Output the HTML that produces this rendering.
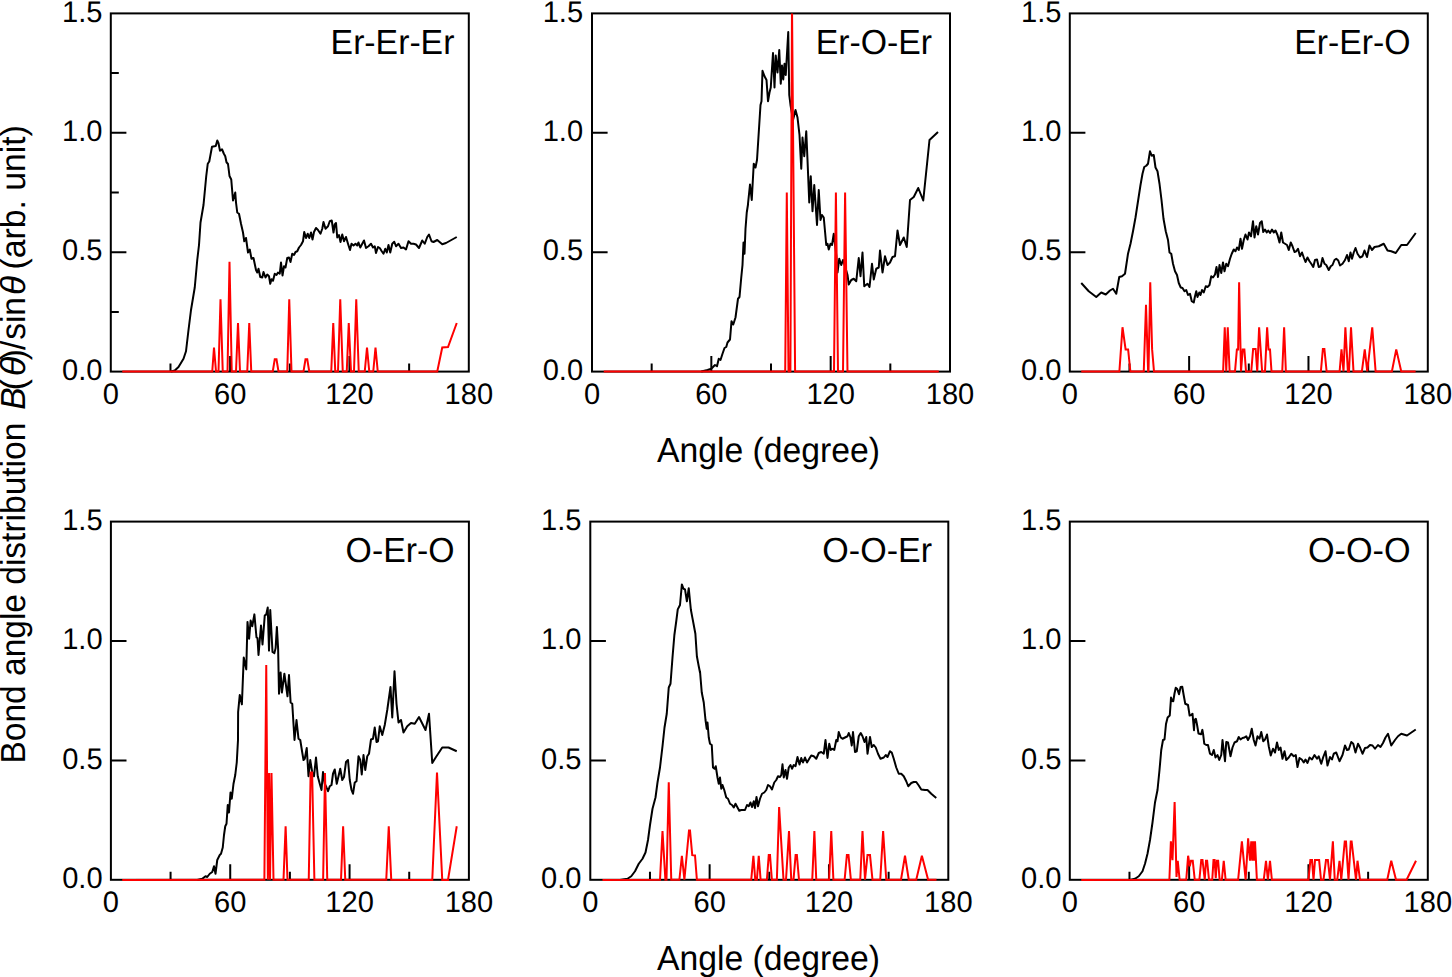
<!DOCTYPE html>
<html><head><meta charset="utf-8"><title>Bond angle distribution</title>
<style>html,body{margin:0;padding:0;background:#fff;}svg{display:block;font-family:"Liberation Sans",sans-serif;text-rendering:geometricPrecision;}</style>
</head><body>
<svg width="1452" height="977" viewBox="0 0 1452 977">
<rect x="0" y="0" width="1452" height="977" fill="#ffffff"/>
<defs>
<clipPath id="c0"><rect x="110.80" y="13.40" width="358.00" height="359.70"/></clipPath>
<clipPath id="c1"><rect x="592.00" y="13.40" width="358.00" height="359.70"/></clipPath>
<clipPath id="c2"><rect x="1069.80" y="13.40" width="358.00" height="359.70"/></clipPath>
<clipPath id="c3"><rect x="110.90" y="521.60" width="358.00" height="359.70"/></clipPath>
<clipPath id="c4"><rect x="590.30" y="521.60" width="358.00" height="359.70"/></clipPath>
<clipPath id="c5"><rect x="1069.80" y="521.60" width="358.00" height="359.70"/></clipPath>
</defs>
<g>
<rect x="110.80" y="13.40" width="358.00" height="358.20" fill="none" stroke="#000" stroke-width="2.0"/>
<path d="M170.47,371.60 v-8.00 M230.13,371.60 v-15.50 M289.80,371.60 v-8.00 M349.47,371.60 v-15.50 M409.13,371.60 v-8.00 M110.80,252.20 h15.60 M110.80,132.80 h15.60 M110.80,311.90 h8.00 M110.80,192.50 h8.00 M110.80,73.10 h8.00" stroke="#000" stroke-width="2.0" fill="none"/>
<polyline points="171.00,371.50 174.75,370.50 178.50,367.00 183.50,358.75 186.00,351.25 188.50,330.00 191.00,310.00 194.75,287.50 197.25,260.00 199.00,245.00 200.50,222.50 203.50,205.00 206.25,176.00 207.75,163.75 209.25,161.50 212.00,146.75 215.75,146.00 217.25,140.50 218.50,143.25 220.00,150.75 222.00,149.25 223.75,153.50 225.25,156.25 226.50,162.25 228.00,164.00 229.50,176.00 231.25,179.50 233.00,200.50 235.25,192.50 236.00,202.50 237.25,212.50 239.00,213.75 241.00,223.75 243.00,232.50 244.25,241.25 246.00,238.00 248.00,252.50 249.75,249.50 251.50,258.75 253.50,258.00 256.00,270.00 257.25,272.50 258.50,268.75 260.25,277.00 262.25,277.50 263.50,272.00 265.50,277.50 267.25,274.50 269.00,276.25 270.25,283.75 271.50,279.25 273.00,280.75 274.75,273.75 276.50,275.00 278.00,272.50 279.75,273.75 281.00,262.50 282.50,275.50 284.00,266.25 285.50,267.50 287.25,258.00 289.00,257.50 290.50,262.00 292.25,253.75 294.00,255.00 295.50,252.00 297.25,251.25 299.00,247.50 301.00,245.00 303.00,241.25 304.25,232.00 306.00,238.00 307.75,233.75 309.25,238.00 311.00,232.50 312.50,239.50 314.00,232.00 316.00,228.00 318.00,230.00 320.50,233.75 322.25,228.75 323.50,222.00 325.50,228.75 328.00,226.25 329.75,221.25 331.75,220.50 333.50,232.50 334.75,224.50 336.00,223.00 337.25,237.50 339.00,235.00 340.50,242.00 342.25,234.50 344.00,241.25 346.00,237.00 348.00,243.75 350.00,250.00 351.50,243.75 353.50,245.50 355.50,243.75 357.25,245.50 358.50,242.50 360.25,247.50 362.25,243.75 364.00,240.50 366.00,248.00 368.50,246.25 371.00,243.75 373.00,247.50 374.75,246.25 376.00,253.00 378.00,247.00 379.75,248.00 381.75,251.25 383.50,253.75 385.25,248.75 386.75,252.50 388.50,245.00 390.25,252.50 392.25,243.75 394.25,241.75 396.00,246.25 398.50,243.75 401.00,248.00 403.50,247.50 406.00,249.50 408.50,241.25 411.00,243.75 413.50,243.75 416.00,244.50 419.00,248.00 422.25,240.50 424.75,243.75 427.25,237.00 429.00,234.50 431.50,241.25 433.50,242.00 437.25,240.00 442.25,244.25 446.00,243.00 456.75,237.00" fill="none" stroke="#000" stroke-width="2.0" stroke-linejoin="round" stroke-miterlimit="3" clip-path="url(#c0)"/>
<polyline points="122.25,371.50 212.25,371.50 214.00,347.50 216.00,371.50 218.50,371.50 220.50,299.25 222.75,371.50 227.50,371.50 229.50,261.75 231.75,371.50 236.00,371.50 238.00,323.00 240.00,371.50 247.25,371.50 249.25,323.00 251.25,371.50 272.75,371.50 274.75,359.25 276.50,359.25 278.50,371.50 287.25,371.50 289.25,299.25 291.50,371.50 303.50,371.50 305.50,359.25 307.25,359.25 309.25,371.50 331.25,371.50 333.25,323.00 335.25,371.50 338.00,371.50 340.25,299.25 342.75,371.50 346.75,371.50 348.75,323.00 351.00,371.50 354.00,371.50 356.25,299.25 358.75,371.50 364.75,371.50 367.00,347.50 369.25,371.50 373.25,371.50 375.50,347.50 377.75,371.50 437.25,371.50 442.25,347.50 448.00,347.00 456.75,323.00" fill="none" stroke="#ff0000" stroke-width="2.0" stroke-linejoin="miter" stroke-miterlimit="3" clip-path="url(#c0)"/>
<text transform="translate(102.50,379.70) scale(0.9800,1)" font-size="29.7" text-anchor="end">0.0</text>
<text transform="translate(102.50,260.30) scale(0.9800,1)" font-size="29.7" text-anchor="end">0.5</text>
<text transform="translate(102.50,140.90) scale(0.9800,1)" font-size="29.7" text-anchor="end">1.0</text>
<text transform="translate(102.50,21.50) scale(0.9800,1)" font-size="29.7" text-anchor="end">1.5</text>
<text transform="translate(110.80,403.90) scale(0.9800,1)" font-size="29.7" text-anchor="middle">0</text>
<text transform="translate(230.13,403.90) scale(0.9800,1)" font-size="29.7" text-anchor="middle">60</text>
<text transform="translate(349.47,403.90) scale(0.9800,1)" font-size="29.7" text-anchor="middle">120</text>
<text transform="translate(468.80,403.90) scale(0.9800,1)" font-size="29.7" text-anchor="middle">180</text>
<text transform="translate(454.40,53.80) scale(0.9703,1)" font-size="34.8" text-anchor="end">Er-Er-Er</text>
</g>
<g>
<rect x="592.00" y="13.40" width="358.00" height="358.20" fill="none" stroke="#000" stroke-width="2.0"/>
<path d="M651.67,371.60 v-8.00 M711.33,371.60 v-15.50 M771.00,371.60 v-8.00 M830.67,371.60 v-15.50 M890.33,371.60 v-8.00 M592.00,252.20 h15.60 M592.00,132.80 h15.60" stroke="#000" stroke-width="2.0" fill="none"/>
<polyline points="701.25,371.50 707.50,370.00 711.25,368.75 715.00,365.00 717.00,366.25 718.75,358.75 720.50,360.00 722.50,353.75 724.50,348.00 726.25,347.00 727.50,342.50 730.00,339.50 731.50,321.25 733.25,324.50 735.50,317.50 738.00,298.75 739.50,297.00 741.25,277.50 742.50,265.00 743.50,242.50 744.50,253.75 745.50,228.75 746.75,212.50 748.00,204.50 748.00,203.75 750.00,184.50 751.75,200.00 753.75,163.75 755.50,167.50 757.00,160.00 758.75,132.50 760.50,105.00 761.50,101.25 762.50,70.75 764.50,76.25 766.50,80.00 768.00,101.25 769.50,92.50 770.75,87.50 773.00,53.00 774.50,87.50 775.75,55.50 777.50,72.50 779.25,50.00 780.75,83.75 782.00,65.50 783.25,79.50 784.50,63.75 785.75,75.00 788.25,32.00 789.25,95.00 790.50,105.00 793.00,120.00 795.50,110.00 797.50,117.50 799.50,135.00 801.25,168.75 802.50,137.50 804.25,156.25 806.25,131.25 807.50,160.00 809.25,202.50 810.75,176.25 812.50,211.25 814.25,185.00 817.00,225.00 818.75,190.00 820.50,220.00 822.00,215.00 823.75,217.50 826.25,245.00 827.50,243.75 828.75,249.50 830.50,243.75 832.00,245.00 833.75,233.75 836.25,255.00 837.50,272.50 839.25,258.75 841.25,265.00 843.00,260.00 845.00,266.25 847.50,275.00 848.75,284.50 851.25,280.00 853.75,278.75 856.25,281.25 858.75,258.00 860.50,276.25 862.50,252.50 864.25,286.25 867.50,283.75 869.50,287.00 872.00,263.75 873.75,279.50 876.25,268.75 878.75,267.50 880.00,250.50 882.50,272.50 885.00,256.25 887.50,265.00 890.00,262.50 892.50,257.00 895.00,256.25 897.50,230.50 900.00,245.00 903.75,237.50 906.75,247.00 910.00,200.00 913.75,197.00 918.25,188.00 923.25,200.50 929.50,140.00 938.00,132.00" fill="none" stroke="#000" stroke-width="2.0" stroke-linejoin="round" stroke-miterlimit="3" clip-path="url(#c1)"/>
<polyline points="603.75,371.50 785.20,371.50 786.80,192.50 788.50,371.50 790.40,371.50 792.00,6.00 795.10,371.50 834.00,371.50 835.90,192.50 838.00,371.50 843.00,371.50 845.10,192.50 847.50,371.50 938.75,371.50" fill="none" stroke="#ff0000" stroke-width="2.0" stroke-linejoin="miter" stroke-miterlimit="3" clip-path="url(#c1)"/>
<text transform="translate(583.10,379.70) scale(0.9800,1)" font-size="29.7" text-anchor="end">0.0</text>
<text transform="translate(583.10,260.30) scale(0.9800,1)" font-size="29.7" text-anchor="end">0.5</text>
<text transform="translate(583.10,140.90) scale(0.9800,1)" font-size="29.7" text-anchor="end">1.0</text>
<text transform="translate(583.10,21.50) scale(0.9800,1)" font-size="29.7" text-anchor="end">1.5</text>
<text transform="translate(592.00,403.90) scale(0.9800,1)" font-size="29.7" text-anchor="middle">0</text>
<text transform="translate(711.33,403.90) scale(0.9800,1)" font-size="29.7" text-anchor="middle">60</text>
<text transform="translate(830.67,403.90) scale(0.9800,1)" font-size="29.7" text-anchor="middle">120</text>
<text transform="translate(950.00,403.90) scale(0.9800,1)" font-size="29.7" text-anchor="middle">180</text>
<text transform="translate(932.00,53.80) scale(0.9703,1)" font-size="34.8" text-anchor="end">Er-O-Er</text>
</g>
<g>
<rect x="1069.80" y="13.40" width="358.00" height="358.20" fill="none" stroke="#000" stroke-width="2.0"/>
<path d="M1129.47,371.60 v-8.00 M1189.13,371.60 v-15.50 M1248.80,371.60 v-8.00 M1308.47,371.60 v-15.50 M1368.13,371.60 v-8.00 M1069.80,252.20 h15.60 M1069.80,132.80 h15.60" stroke="#000" stroke-width="2.0" fill="none"/>
<polyline points="1081.25,283.00 1088.75,291.25 1096.25,297.00 1101.25,292.50 1105.75,294.50 1110.00,290.50 1113.00,288.75 1116.25,293.75 1119.25,277.00 1122.00,276.25 1125.00,273.75 1128.00,253.75 1130.50,243.75 1133.00,231.25 1135.50,217.50 1138.00,201.25 1140.50,185.00 1142.50,173.75 1144.25,167.00 1146.25,165.75 1148.00,163.75 1150.00,151.25 1151.75,155.75 1153.75,155.00 1155.50,167.50 1157.50,171.25 1159.50,183.75 1161.50,200.00 1163.50,218.75 1165.75,231.25 1168.00,240.00 1169.50,252.50 1171.25,253.75 1173.00,263.75 1175.00,271.25 1177.00,275.00 1178.75,283.00 1180.75,287.50 1182.50,288.00 1184.50,291.25 1186.25,290.00 1188.00,295.00 1190.00,293.75 1191.75,301.25 1193.75,302.50 1195.00,296.25 1196.25,291.25 1197.50,297.00 1199.25,292.50 1200.50,295.00 1202.00,290.00 1203.75,292.50 1205.75,286.25 1207.50,287.00 1209.50,285.00 1211.25,276.25 1213.00,277.50 1215.00,274.50 1216.50,267.00 1218.00,277.00 1219.50,265.00 1221.25,273.00 1223.00,262.50 1224.50,271.25 1226.25,263.75 1228.00,266.25 1230.00,258.75 1231.75,253.75 1233.75,249.50 1235.50,251.25 1237.00,247.50 1238.75,250.00 1240.50,238.75 1242.00,248.75 1243.75,240.00 1245.50,234.50 1247.50,239.50 1249.00,232.50 1251.00,236.25 1253.00,221.25 1254.50,237.50 1256.25,226.25 1258.00,234.50 1260.00,223.00 1261.75,221.25 1263.25,232.00 1265.00,229.50 1266.75,232.50 1268.25,230.50 1270.00,233.00 1272.00,229.50 1273.75,232.50 1275.50,230.50 1277.50,235.00 1279.50,242.50 1281.25,232.50 1283.00,242.50 1285.00,243.75 1287.00,245.00 1288.75,250.00 1290.75,242.50 1292.50,246.25 1294.50,252.00 1296.25,251.25 1298.00,248.75 1300.00,256.25 1302.00,252.50 1303.75,257.50 1305.50,262.00 1307.50,257.50 1309.50,261.25 1311.25,263.75 1313.25,267.00 1315.00,260.00 1317.00,259.50 1318.75,267.00 1320.75,266.25 1322.50,258.00 1324.50,263.75 1326.25,265.00 1328.75,270.00 1330.75,266.25 1332.50,265.00 1334.50,260.00 1336.25,258.75 1338.25,260.50 1340.00,265.50 1342.50,263.75 1345.00,260.00 1347.00,255.00 1348.75,261.25 1350.50,252.50 1352.00,258.75 1353.75,252.50 1355.50,248.00 1357.50,253.75 1360.00,257.50 1362.50,256.25 1364.50,250.50 1367.00,257.00 1369.50,245.50 1372.00,250.00 1374.50,247.00 1378.75,246.25 1383.75,243.75 1387.50,250.50 1391.25,251.25 1395.75,253.00 1401.25,245.00 1407.00,245.00 1415.75,233.00" fill="none" stroke="#000" stroke-width="2.0" stroke-linejoin="round" stroke-miterlimit="3" clip-path="url(#c2)"/>
<polyline points="1081.25,371.50 1119.38,371.50 1122.50,327.25 1125.62,349.38 1128.12,349.38 1130.38,371.50 1143.75,371.50 1146.00,304.75 1148.12,371.50 1148.50,371.50 1150.25,282.25 1152.12,349.38 1154.00,371.50 1223.12,371.50 1224.75,327.25 1226.25,371.50 1227.75,327.25 1229.62,371.50 1235.00,371.50 1236.88,349.38 1238.12,349.38 1239.12,282.25 1241.00,371.50 1242.75,349.38 1244.38,349.38 1246.00,371.50 1251.25,371.50 1253.12,349.00 1255.62,349.00 1257.25,371.50 1259.12,327.25 1262.12,371.50 1265.00,371.50 1267.12,327.25 1268.50,349.38 1270.00,349.38 1271.50,371.50 1282.25,371.50 1284.12,327.25 1285.88,371.50 1320.88,371.50 1322.88,349.00 1324.38,349.00 1326.62,371.50 1339.62,371.50 1341.50,349.38 1343.50,371.50 1345.38,327.25 1347.88,371.50 1349.00,371.50 1351.00,327.25 1353.50,371.50 1361.88,371.50 1364.75,349.38 1367.25,371.50 1372.25,327.25 1375.62,371.50 1391.88,371.50 1396.25,349.38 1401.25,371.50 1415.62,371.50" fill="none" stroke="#ff0000" stroke-width="2.0" stroke-linejoin="miter" stroke-miterlimit="3" clip-path="url(#c2)"/>
<text transform="translate(1061.50,379.70) scale(0.9800,1)" font-size="29.7" text-anchor="end">0.0</text>
<text transform="translate(1061.50,260.30) scale(0.9800,1)" font-size="29.7" text-anchor="end">0.5</text>
<text transform="translate(1061.50,140.90) scale(0.9800,1)" font-size="29.7" text-anchor="end">1.0</text>
<text transform="translate(1061.50,21.50) scale(0.9800,1)" font-size="29.7" text-anchor="end">1.5</text>
<text transform="translate(1069.80,403.90) scale(0.9800,1)" font-size="29.7" text-anchor="middle">0</text>
<text transform="translate(1189.13,403.90) scale(0.9800,1)" font-size="29.7" text-anchor="middle">60</text>
<text transform="translate(1308.47,403.90) scale(0.9800,1)" font-size="29.7" text-anchor="middle">120</text>
<text transform="translate(1427.80,403.90) scale(0.9800,1)" font-size="29.7" text-anchor="middle">180</text>
<text transform="translate(1410.60,53.80) scale(0.9703,1)" font-size="34.8" text-anchor="end">Er-Er-O</text>
</g>
<g>
<rect x="110.90" y="521.60" width="358.00" height="358.20" fill="none" stroke="#000" stroke-width="2.0"/>
<path d="M170.57,879.80 v-8.00 M230.23,879.80 v-15.50 M289.90,879.80 v-8.00 M349.57,879.80 v-15.50 M409.23,879.80 v-8.00 M110.90,760.40 h15.60 M110.90,641.00 h15.60" stroke="#000" stroke-width="2.0" fill="none"/>
<polyline points="197.25,880.00 202.25,878.75 205.50,876.25 207.25,877.00 209.75,873.75 212.25,872.00 214.00,866.25 215.50,873.75 217.25,860.00 219.75,855.00 221.00,853.75 222.75,847.50 224.00,835.00 225.25,826.25 226.50,823.75 227.75,805.00 229.00,812.50 230.50,792.50 231.75,798.75 233.50,783.75 235.25,775.00 236.75,762.50 238.00,740.00 238.12,712.12 239.75,695.00 241.88,704.38 243.75,657.50 246.25,669.38 247.50,621.88 249.12,638.75 250.62,620.62 252.25,626.25 254.38,614.38 256.50,637.50 257.50,638.12 258.50,655.00 261.00,625.62 262.50,644.38 264.75,615.62 266.25,614.38 267.75,607.50 269.00,650.62 270.25,610.00 272.50,651.88 274.38,653.12 275.62,648.12 276.88,626.88 278.12,648.75 279.00,693.75 280.62,672.50 281.88,692.50 284.38,673.75 287.50,696.25 289.00,675.00 290.62,702.50 292.25,703.75 294.50,740.00 296.50,720.00 298.50,738.75 300.25,740.00 302.25,752.50 303.50,760.00 304.75,758.75 306.75,748.00 308.50,776.25 310.25,760.00 312.25,772.50 314.00,776.25 316.00,757.50 317.75,776.25 319.75,783.75 321.50,790.00 323.00,772.00 324.75,783.75 326.50,787.50 328.00,791.25 329.75,786.25 331.50,785.00 333.00,773.75 334.75,769.50 336.75,783.75 338.50,776.25 340.25,768.75 342.25,780.00 344.00,777.00 346.00,762.00 348.00,760.00 349.75,780.00 351.50,790.00 353.00,793.75 354.75,782.50 356.50,781.25 358.50,756.25 360.25,760.00 361.75,774.50 363.50,755.00 365.25,770.00 367.25,756.25 369.00,753.75 371.00,739.50 373.00,738.75 374.75,727.50 376.50,742.00 378.00,741.25 379.75,726.25 382.25,735.00 384.75,725.00 387.25,710.00 390.50,687.00 392.25,717.50 394.50,671.25 396.50,703.75 398.50,722.50 401.00,720.00 403.50,732.50 407.25,726.25 411.00,723.00 414.75,723.75 419.00,717.00 425.50,730.00 429.00,713.75 432.25,763.00 436.00,757.00 442.25,747.50 448.50,747.50 456.75,751.25" fill="none" stroke="#000" stroke-width="2.0" stroke-linejoin="round" stroke-miterlimit="3" clip-path="url(#c3)"/>
<polyline points="122.25,880.00 264.38,879.75 266.25,665.00 267.88,879.75 269.12,773.00 270.00,879.75 271.50,773.00 273.50,879.75 283.50,879.75 285.62,826.38 287.50,879.75 308.75,879.75 310.62,772.62 312.12,772.62 314.38,879.75 323.12,879.75 325.00,773.00 327.25,879.75 341.00,879.75 343.12,826.38 345.25,879.75 386.25,879.75 388.75,826.38 391.25,879.75 432.25,880.00 437.00,772.50 442.25,880.00 448.00,880.00 456.75,826.25" fill="none" stroke="#ff0000" stroke-width="2.0" stroke-linejoin="miter" stroke-miterlimit="3" clip-path="url(#c3)"/>
<text transform="translate(102.60,887.90) scale(0.9800,1)" font-size="29.7" text-anchor="end">0.0</text>
<text transform="translate(102.60,768.50) scale(0.9800,1)" font-size="29.7" text-anchor="end">0.5</text>
<text transform="translate(102.60,649.10) scale(0.9800,1)" font-size="29.7" text-anchor="end">1.0</text>
<text transform="translate(102.60,529.70) scale(0.9800,1)" font-size="29.7" text-anchor="end">1.5</text>
<text transform="translate(110.90,912.10) scale(0.9800,1)" font-size="29.7" text-anchor="middle">0</text>
<text transform="translate(230.23,912.10) scale(0.9800,1)" font-size="29.7" text-anchor="middle">60</text>
<text transform="translate(349.57,912.10) scale(0.9800,1)" font-size="29.7" text-anchor="middle">120</text>
<text transform="translate(468.90,912.10) scale(0.9800,1)" font-size="29.7" text-anchor="middle">180</text>
<text transform="translate(454.40,562.00) scale(0.9703,1)" font-size="34.8" text-anchor="end">O-Er-O</text>
</g>
<g>
<rect x="590.30" y="521.60" width="358.00" height="358.20" fill="none" stroke="#000" stroke-width="2.0"/>
<path d="M649.97,879.80 v-8.00 M709.63,879.80 v-15.50 M769.30,879.80 v-8.00 M828.97,879.80 v-15.50 M888.63,879.80 v-8.00 M590.30,760.40 h15.60 M590.30,641.00 h15.60" stroke="#000" stroke-width="2.0" fill="none"/>
<polyline points="620.00,880.00 627.50,878.75 631.25,876.25 635.00,871.25 638.75,863.75 642.50,858.75 645.50,852.50 648.00,840.00 650.00,825.00 652.50,808.75 655.50,797.50 657.50,782.50 660.00,767.50 662.50,746.25 664.50,727.50 666.75,713.75 668.75,687.50 670.50,683.75 672.50,657.50 672.50,657.50 674.38,635.00 676.25,621.25 677.75,609.38 680.00,605.00 681.88,584.38 683.50,588.75 685.00,589.38 686.88,601.25 688.75,588.25 690.00,601.00 690.88,609.75 692.50,618.38 693.75,625.00 695.38,633.75 696.88,656.25 698.75,666.25 700.00,672.50 700.00,671.25 701.75,692.50 703.75,702.50 705.50,720.00 706.75,728.75 707.50,722.50 708.75,737.50 710.00,743.75 711.75,745.00 713.00,767.50 714.50,768.75 715.75,766.25 717.50,777.50 718.75,783.75 720.00,777.50 721.25,788.75 722.50,785.00 724.25,790.00 726.25,797.50 728.00,798.75 730.00,803.75 732.00,805.00 733.75,807.50 735.50,803.75 737.50,807.50 739.25,810.75 741.25,810.00 743.00,810.00 745.00,810.00 747.00,805.00 748.75,806.25 750.50,802.50 752.00,807.00 753.75,801.25 755.00,808.00 756.50,797.00 758.00,806.25 760.00,798.75 762.00,793.75 764.25,792.50 766.25,790.00 768.00,785.00 770.00,786.25 772.00,789.50 774.25,782.50 776.25,780.00 778.00,776.25 780.00,777.00 781.25,775.00 782.50,764.25 783.75,777.50 785.50,770.00 787.00,778.75 788.75,767.50 790.50,765.00 792.00,768.75 793.75,765.00 795.50,766.25 797.50,757.00 799.50,764.50 801.25,758.00 803.00,762.50 805.00,757.50 807.00,762.50 809.25,758.75 811.25,755.50 813.75,756.25 816.25,758.75 818.75,753.00 821.25,752.00 823.75,753.75 825.50,740.00 827.50,758.00 829.25,743.75 830.75,750.00 832.50,748.75 834.25,750.00 836.25,740.00 837.50,741.25 838.75,732.00 840.75,737.50 842.50,738.75 845.00,737.50 847.50,736.25 848.75,733.00 850.50,737.50 851.75,745.50 853.00,732.00 855.00,752.00 856.75,751.25 858.75,736.25 860.75,733.00 862.50,736.25 864.50,742.00 866.25,737.00 867.50,753.75 870.00,737.00 871.75,747.00 873.75,745.00 875.75,747.50 878.00,753.75 880.50,758.75 883.75,757.50 885.75,755.00 887.50,757.00 890.00,751.25 891.75,752.50 893.75,758.75 896.25,767.50 898.75,773.75 901.25,773.75 903.75,776.25 906.25,781.25 908.25,786.25 911.25,783.00 913.75,782.00 916.25,782.00 918.75,785.50 921.25,789.50 925.00,790.00 927.50,790.00 931.25,793.75 936.25,798.00" fill="none" stroke="#000" stroke-width="2.0" stroke-linejoin="round" stroke-miterlimit="3" clip-path="url(#c4)"/>
<polyline points="602.50,880.00 660.00,879.75 662.50,831.12 665.38,879.75 666.50,879.75 668.75,782.25 671.25,879.75 679.38,879.75 681.88,855.75 684.38,879.75 689.00,830.50 690.00,830.50 692.25,855.12 695.00,855.50 696.88,879.75 751.25,879.75 753.38,855.75 755.25,879.75 756.88,879.75 758.75,855.75 760.62,879.75 766.88,879.75 768.75,855.12 770.00,855.12 771.88,879.75 776.88,879.75 779.12,807.00 783.50,879.75 786.00,879.75 789.00,831.12 791.25,879.75 793.50,879.75 795.62,855.12 796.88,855.12 799.00,879.75 812.25,879.75 814.38,831.12 816.25,879.75 829.12,879.75 831.25,831.12 833.38,879.75 844.62,879.75 846.88,855.12 848.50,855.12 850.88,879.75 860.25,879.75 862.50,831.12 865.00,879.75 867.50,855.12 870.00,855.12 872.50,879.75 880.25,879.75 883.12,831.12 886.25,879.75 901.00,879.75 905.00,855.75 908.75,879.75 916.25,879.75 921.88,855.75 928.12,879.75 936.50,879.75" fill="none" stroke="#ff0000" stroke-width="2.0" stroke-linejoin="miter" stroke-miterlimit="3" clip-path="url(#c4)"/>
<text transform="translate(581.50,887.90) scale(0.9800,1)" font-size="29.7" text-anchor="end">0.0</text>
<text transform="translate(581.50,768.50) scale(0.9800,1)" font-size="29.7" text-anchor="end">0.5</text>
<text transform="translate(581.50,649.10) scale(0.9800,1)" font-size="29.7" text-anchor="end">1.0</text>
<text transform="translate(581.50,529.70) scale(0.9800,1)" font-size="29.7" text-anchor="end">1.5</text>
<text transform="translate(590.30,912.10) scale(0.9800,1)" font-size="29.7" text-anchor="middle">0</text>
<text transform="translate(709.63,912.10) scale(0.9800,1)" font-size="29.7" text-anchor="middle">60</text>
<text transform="translate(828.97,912.10) scale(0.9800,1)" font-size="29.7" text-anchor="middle">120</text>
<text transform="translate(948.30,912.10) scale(0.9800,1)" font-size="29.7" text-anchor="middle">180</text>
<text transform="translate(932.00,562.00) scale(0.9780,1)" font-size="34.8" text-anchor="end">O-O-Er</text>
</g>
<g>
<rect x="1069.80" y="521.60" width="358.00" height="358.20" fill="none" stroke="#000" stroke-width="2.0"/>
<path d="M1129.47,879.80 v-8.00 M1189.13,879.80 v-15.50 M1248.80,879.80 v-8.00 M1308.47,879.80 v-15.50 M1368.13,879.80 v-8.00 M1069.80,760.40 h15.60 M1069.80,641.00 h15.60" stroke="#000" stroke-width="2.0" fill="none"/>
<polyline points="1130.00,880.00 1135.00,878.75 1138.75,876.25 1142.50,871.25 1145.00,863.75 1147.50,853.75 1150.00,840.00 1152.50,822.50 1155.00,802.50 1157.50,790.00 1159.50,770.00 1161.25,750.00 1163.00,740.00 1164.50,739.50 1166.00,724.00 1167.62,717.50 1169.75,715.50 1170.75,701.75 1171.00,697.50 1172.25,701.00 1173.25,701.25 1174.50,693.50 1175.75,687.75 1177.25,689.00 1179.00,694.25 1180.62,687.00 1182.25,686.75 1183.75,695.50 1185.25,703.75 1188.00,705.00 1189.62,715.50 1191.25,715.00 1192.50,713.75 1194.00,730.25 1194.62,719.75 1195.88,718.75 1197.00,724.50 1198.50,733.50 1201.12,734.25 1202.38,729.88 1203.25,735.00 1204.25,743.75 1206.25,745.00 1208.00,745.00 1210.00,753.75 1212.00,755.00 1213.75,750.00 1215.50,757.50 1217.50,755.00 1219.25,760.00 1221.25,755.00 1222.50,740.00 1225.00,761.25 1226.25,742.00 1228.00,742.50 1230.50,756.25 1232.50,747.50 1234.50,742.50 1237.00,741.25 1238.75,737.00 1240.50,739.50 1242.50,738.00 1244.50,737.50 1246.25,736.25 1248.00,740.00 1250.00,736.25 1251.75,728.75 1253.75,740.00 1255.50,745.50 1257.50,736.25 1259.50,738.75 1261.25,732.00 1263.25,741.25 1265.00,739.50 1267.00,734.50 1268.75,746.25 1270.75,755.50 1273.00,748.75 1275.00,752.50 1277.00,742.50 1278.75,750.00 1280.50,747.50 1282.50,758.75 1284.50,751.25 1286.25,760.00 1288.75,757.50 1291.25,753.75 1293.75,756.25 1295.75,755.00 1297.50,767.00 1299.50,758.00 1301.75,759.50 1303.75,762.50 1305.50,759.50 1307.50,763.00 1309.50,757.50 1312.00,759.50 1314.50,755.00 1317.00,758.75 1318.75,756.25 1321.25,763.75 1323.25,757.00 1325.50,751.25 1327.50,765.50 1330.00,757.00 1332.00,759.50 1333.75,753.75 1336.25,752.50 1339.50,761.25 1342.50,755.00 1345.00,745.50 1347.00,750.00 1348.75,749.50 1351.25,742.00 1353.25,743.75 1355.50,752.50 1358.00,743.75 1360.00,747.50 1362.50,753.75 1365.00,748.00 1367.50,747.50 1370.00,745.00 1372.50,745.50 1375.00,748.75 1378.00,745.00 1380.50,747.00 1383.00,743.00 1385.50,737.50 1388.00,733.75 1391.25,745.50 1395.00,740.00 1398.00,736.25 1401.25,733.75 1407.00,735.50 1415.75,729.50" fill="none" stroke="#000" stroke-width="2.0" stroke-linejoin="round" stroke-miterlimit="3" clip-path="url(#c5)"/>
<polyline points="1081.25,880.00 1169.38,879.75 1170.88,841.38 1172.50,860.12 1174.62,802.00 1176.50,877.00 1177.75,860.75 1179.62,879.75 1186.25,879.75 1188.12,855.75 1189.75,866.38 1191.00,860.75 1192.75,860.75 1194.75,879.75 1199.38,879.75 1201.25,860.12 1202.50,860.12 1204.75,879.75 1206.00,860.75 1207.12,860.75 1209.00,879.75 1212.25,879.75 1213.50,860.12 1214.62,860.12 1215.75,878.25 1216.88,860.75 1218.12,860.75 1219.62,879.75 1221.88,879.75 1223.75,860.75 1225.62,879.75 1238.12,879.75 1241.88,841.38 1245.62,879.75 1248.12,838.25 1250.00,860.75 1251.25,841.38 1252.25,860.75 1253.12,841.38 1254.12,860.75 1255.00,841.38 1256.88,879.75 1263.75,879.75 1266.00,860.75 1267.88,879.75 1270.00,860.75 1271.88,879.75 1308.50,879.75 1310.38,860.12 1312.00,860.12 1313.50,879.75 1315.00,860.12 1319.12,860.12 1321.00,879.75 1323.50,879.75 1326.00,860.12 1327.88,860.12 1330.00,879.75 1332.88,841.38 1334.75,879.75 1337.25,879.75 1339.50,860.75 1341.25,879.75 1344.75,841.38 1346.00,841.38 1348.50,879.75 1350.75,841.38 1351.62,841.38 1356.00,879.75 1357.50,860.75 1360.00,879.75 1387.25,879.75 1391.25,860.75 1396.00,879.75 1406.62,879.75 1416.00,860.75" fill="none" stroke="#ff0000" stroke-width="2.0" stroke-linejoin="miter" stroke-miterlimit="3" clip-path="url(#c5)"/>
<text transform="translate(1061.50,887.90) scale(0.9800,1)" font-size="29.7" text-anchor="end">0.0</text>
<text transform="translate(1061.50,768.50) scale(0.9800,1)" font-size="29.7" text-anchor="end">0.5</text>
<text transform="translate(1061.50,649.10) scale(0.9800,1)" font-size="29.7" text-anchor="end">1.0</text>
<text transform="translate(1061.50,529.70) scale(0.9800,1)" font-size="29.7" text-anchor="end">1.5</text>
<text transform="translate(1069.80,912.10) scale(0.9800,1)" font-size="29.7" text-anchor="middle">0</text>
<text transform="translate(1189.13,912.10) scale(0.9800,1)" font-size="29.7" text-anchor="middle">60</text>
<text transform="translate(1308.47,912.10) scale(0.9800,1)" font-size="29.7" text-anchor="middle">120</text>
<text transform="translate(1427.80,912.10) scale(0.9800,1)" font-size="29.7" text-anchor="middle">180</text>
<text transform="translate(1410.60,562.00) scale(0.9838,1)" font-size="34.8" text-anchor="end">O-O-O</text>
</g>
<text transform="translate(768.50,461.50) scale(0.9684,1)" font-size="34.8" text-anchor="middle">Angle (degree)</text>
<text transform="translate(768.50,969.50) scale(0.9684,1)" font-size="34.8" text-anchor="middle">Angle (degree)</text>
<text transform="translate(25.20,763.50) rotate(-90) scale(0.9626,1)" font-size="34.8" text-anchor="start">Bond angle distribution</text>
<text transform="translate(25.20,409.70) rotate(-90) scale(0.9626,1)" font-size="34.8" text-anchor="start" font-style="italic">B</text>
<text transform="translate(25.20,390.20) rotate(-90) scale(0.9626,1)" font-size="34.8" text-anchor="start">(</text>
<text transform="translate(25.20,376.15) rotate(-90) scale(1.0397,1)" font-size="34.8" text-anchor="start" font-style="italic">&#952;</text>
<text transform="translate(25.20,360.30) rotate(-90) scale(0.9626,1)" font-size="34.8" text-anchor="start">)</text>
<text transform="translate(25.20,350.10) rotate(-90) scale(0.9626,1)" font-size="34.8" text-anchor="start">/</text>
<text transform="translate(25.20,339.85) rotate(-90) scale(0.9626,1)" font-size="34.8" text-anchor="start">sin</text>
<text transform="translate(25.20,295.00) rotate(-90) scale(1.0108,1)" font-size="34.8" text-anchor="start" font-style="italic">&#952;</text>
<text transform="translate(25.20,269.60) rotate(-90) scale(0.9694,1)" font-size="34.8" text-anchor="start">(arb. unit)</text>
</svg>
</body></html>
